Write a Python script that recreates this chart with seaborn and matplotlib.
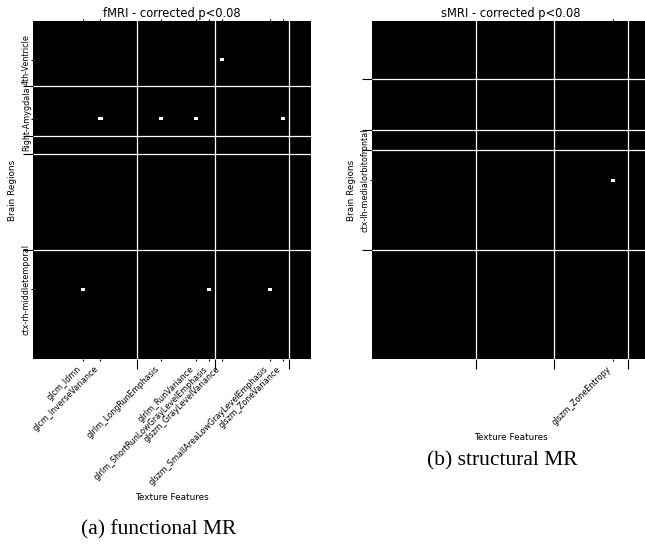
import numpy as np
import matplotlib
matplotlib.use('Agg')
import matplotlib.pyplot as plt
import seaborn as sns

# column groups (glcm, glrlm, glszm, ngtdm) shared by both maps
feature_group_sizes = [24, 18, 17, 5]

# fMRI
fmri_features = ['glcm_Idmn', 'glcm_InverseVariance', 'glrlm_LongRunEmphasis',
                 'glrlm_RunVariance', 'glrlm_ShortRunLowGrayLevelEmphasis',
                 'glszm_GrayLevelVariance', 'glszm_SmallAreaLowGrayLevelEmphasis',
                 'glszm_ZoneVariance']
fmri_feature_cols = [11, 15, 29, 37, 40, 43, 54, 57]
fmri_regions = ['4th-Ventricle', 'Right-Amygdala', 'ctx-rh-middletemporal']
fmri_region_rows = [12, 31, 86]
fmri_region_group_sizes = [21, 16, 6, 31, 35]
# (region index, feature index) of significant cells
fmri_hits = [(0, 5), (1, 1), (1, 2), (1, 3), (1, 7), (2, 0), (2, 4), (2, 6)]

# sMRI
smri_features = ['glszm_ZoneEntropy']
smri_feature_cols = [55]
smri_regions = ['ctx-lh-medialorbitofrontal']
smri_region_rows = [49]
smri_region_group_sizes = [18, 16, 6, 31, 34]
smri_hits = [(0, 0)]


def significance_map(ax, title, features, feature_cols, regions, region_rows,
                     region_groups, hits):
    mask = np.zeros((sum(region_groups), sum(feature_group_sizes)))
    for r, f in hits:
        mask[region_rows[r], feature_cols[f]] = 1
    sns.heatmap(mask, cmap='gray', vmin=0, vmax=1, cbar=False, ax=ax,
                xticklabels=False, yticklabels=False)

    # group borders: major ticks + white grid
    ax.set_xticks(np.cumsum(feature_group_sizes)[:-1])
    ax.set_yticks(np.cumsum(region_groups)[:-1])
    ax.set_xticklabels([])
    ax.set_yticklabels([])

    # significant features / regions: minor ticks with labels
    ax.set_xticks(np.array(feature_cols) + 0.5, minor=True)
    ax.set_xticklabels(features, minor=True, rotation=45, ha='right', fontsize=5.8)
    ax.set_yticks(np.array(region_rows) + 0.5, minor=True)
    ax.set_yticklabels(regions, minor=True, rotation=90, va='center', fontsize=5.8)

    ax.tick_params(which='major', length=7, width=0.8, bottom=True, left=True)
    ax.tick_params(which='minor', length=1.5, width=0.8, bottom=True, left=True,
                   top=True)
    ax.tick_params(axis='x', which='minor', pad=2.5)
    ax.tick_params(axis='y', which='minor', pad=0)
    ax.set_axisbelow(False)
    ax.grid(True, which='major', color='white', lw=0.9)

    ax.set_title(title, fontsize=8.3, pad=3)
    ax.set_xlabel('Texture Features', fontsize=6.4)
    ax.set_ylabel('Brain Regions', fontsize=6.4, labelpad=1)


fig = plt.figure(figsize=(6.45, 5.45), dpi=100)
ax1 = fig.add_axes([33 / 645, 1 - 359 / 545, 278 / 645, 338 / 545])
ax2 = fig.add_axes([372 / 645, 1 - 359 / 545, 278 / 645, 338 / 545])

significance_map(ax1, 'fMRI - corrected p<0.08', fmri_features, fmri_feature_cols,
                 fmri_regions, fmri_region_rows, fmri_region_group_sizes, fmri_hits)
significance_map(ax2, 'sMRI - corrected p<0.08', smri_features, smri_feature_cols,
                 smri_regions, smri_region_rows, smri_region_group_sizes, smri_hits)

serif = ['Liberation Serif', 'DejaVu Serif']
fig.text(159 / 645, 1 - 530 / 545, '(a) functional MR', ha='center', va='center',
         fontsize=15.5, family=serif)
fig.text(502 / 645, 1 - 461 / 545, '(b) structural MR', ha='center', va='center',
         fontsize=15.5, family=serif)

fig.savefig('out.png', dpi=100)
